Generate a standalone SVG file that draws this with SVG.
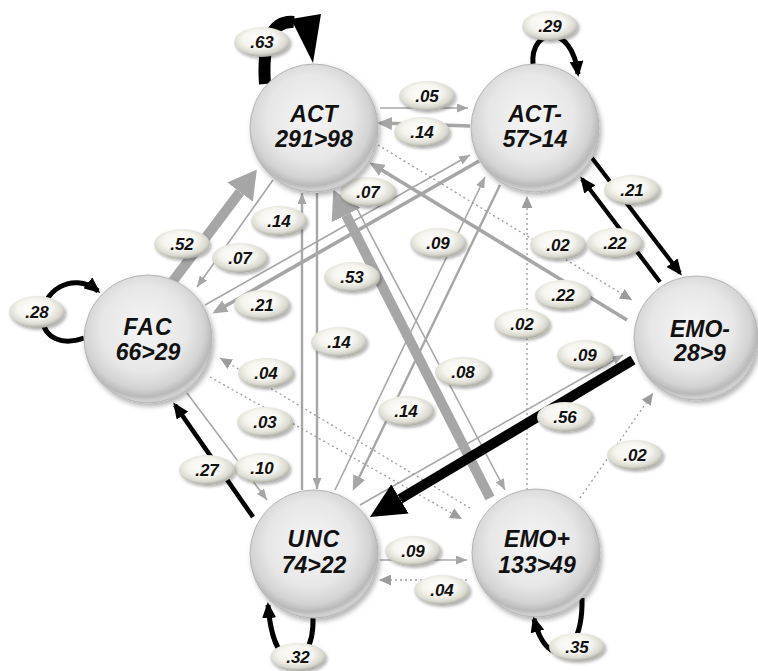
<svg xmlns="http://www.w3.org/2000/svg" width="758" height="671" viewBox="0 0 758 671">
  <style>
    .g1 { fill: none; stroke: #a6a6a6; stroke-width: 1.6; }
    .g2 { fill: none; stroke: #a6a6a6; stroke-width: 2.4; }
    .g3 { fill: none; stroke: #a6a6a6; stroke-width: 3.6; }
    .g4 { fill: none; stroke: #a6a6a6; stroke-width: 10; }
    .dot { fill: none; stroke: #9c9c9c; stroke-width: 1.3; stroke-dasharray: 2 3; }
    .blk { fill: none; stroke: #000; stroke-width: 4.2; }
    .loop { fill: none; stroke: #000; stroke-width: 5; }
    .nodeC { fill: url(#nodeFill); stroke: #b4b4b4; stroke-width: 1; filter: url(#nodeShadow); }
    .nodeT { font-family: "Liberation Sans", Arial, sans-serif; font-weight: bold; font-style: italic; font-size: 23px; text-anchor: middle; fill: #111; }
    .lblE { fill: url(#lblFill); filter: url(#lblShadow); }
    .lblT { font-family: "Liberation Sans", Arial, sans-serif; font-weight: bold; font-style: italic; font-size: 17px; text-anchor: middle; fill: #111; }
  </style>
  <defs>
    <radialGradient id="nodeFill" cx="0.47" cy="0.42" r="0.56">
      <stop offset="0" stop-color="#f5f5f5"/>
      <stop offset="0.6" stop-color="#e7e7e7"/>
      <stop offset="0.84" stop-color="#d3d3d3"/>
      <stop offset="0.95" stop-color="#b9b9b9"/>
      <stop offset="1" stop-color="#cfcfcf"/>
    </radialGradient>
    <radialGradient id="lblFill" cx="0.46" cy="0.4" r="0.6">
      <stop offset="0" stop-color="#ffffff"/>
      <stop offset="0.5" stop-color="#f6f5ef"/>
      <stop offset="0.8" stop-color="#dcdbd2"/>
      <stop offset="1" stop-color="#a9a8a0"/>
    </radialGradient>
    <filter id="nodeShadow" x="-20%" y="-20%" width="140%" height="140%">
      <feDropShadow dx="2" dy="3" stdDeviation="2.5" flood-color="#000" flood-opacity="0.3"/>
    </filter>
    <filter id="lblShadow" x="-20%" y="-30%" width="140%" height="160%">
      <feDropShadow dx="1.5" dy="2" stdDeviation="1.5" flood-color="#000" flood-opacity="0.3"/>
    </filter>
    <!-- arrowheads -->
    <marker id="aS" markerUnits="userSpaceOnUse" orient="auto" markerWidth="11" markerHeight="9" refX="11" refY="4.5">
      <path d="M0,0 L11,4.5 L0,9 z" fill="#a6a6a6"/>
    </marker>
    <marker id="aM" markerUnits="userSpaceOnUse" orient="auto" markerWidth="15" markerHeight="13" refX="12" refY="6.5">
      <path d="M0,0 L15,6.5 L0,13 z" fill="#a6a6a6"/>
    </marker>
    <marker id="aL" markerUnits="userSpaceOnUse" orient="auto" markerWidth="28" markerHeight="32" refX="0" refY="16">
      <path d="M0,0 L28,16 L0,32 z" fill="#a6a6a6"/>
    </marker>
    <marker id="aD" markerUnits="userSpaceOnUse" orient="auto" markerWidth="12" markerHeight="11" refX="12" refY="5.5">
      <path d="M0,0 L12,5.5 L0,11 z" fill="#9c9c9c"/>
    </marker>
    <marker id="bS" markerUnits="userSpaceOnUse" orient="auto" markerWidth="16" markerHeight="14" refX="13" refY="7">
      <path d="M0,0 L16,7 L0,14 z" fill="#000"/>
    </marker>
    <marker id="bL" markerUnits="userSpaceOnUse" orient="auto" markerWidth="35" markerHeight="34" refX="0" refY="17">
      <path d="M0,0 L35,17 L0,34 z" fill="#000"/>
    </marker>
  </defs>

  <g id="connectors">
    <!-- thin gray transitions -->
    <path class="g1" d="M380,108 L468,108" marker-end="url(#aS)"/>
    <path class="g1" d="M273,180 L197,287" marker-end="url(#aS)"/>
    <path class="g1" d="M205,305 L470,155" marker-end="url(#aS)"/>
    <path class="g2" d="M302,490 L302,193" marker-end="url(#aS)"/>
    <path class="g2" d="M317,193 L317,489" marker-end="url(#aS)"/>
    <path class="g1" d="M335,490 L485,177" marker-end="url(#aS)"/>
    <path class="g1" d="M343,182 L505,490" marker-end="url(#aS)"/>
    <path class="g1" d="M187,393 L267,500" marker-end="url(#aS)"/>
    <path class="g1" d="M360,505 L623,355" marker-end="url(#aS)"/>
    <path class="g1" d="M380,560 L467,560" marker-end="url(#aS)"/>
    <!-- medium gray transitions -->
    <path class="g3" d="M470,126 L380,123" marker-end="url(#aM)"/>
    <path class="g3" d="M479,161 L215,312" marker-end="url(#aM)"/>
    <path class="g3" d="M627,320 L372,164" marker-end="url(#aM)"/>
    <path class="g2" d="M500,185 L354,488" marker-end="url(#aM)"/>
    <!-- heavy gray transitions -->
    <path class="g4" d="M173,281 L240,192" marker-end="url(#aL)"/>
    <path class="g4" d="M490,498 L346,215" marker-end="url(#aL)"/>
    <!-- dotted transitions -->
    <path class="dot" d="M378,145 L632,300" marker-end="url(#aD)"/>
    <path class="dot" d="M527,490 L527,196" marker-end="url(#aD)"/>
    <path class="dot" d="M470,508 L220,358" marker-end="url(#aD)"/>
    <path class="dot" d="M210,377 L462,519" marker-end="url(#aD)"/>
    <path class="dot" d="M580,498 L653,393" marker-end="url(#aD)"/>
    <path class="dot" d="M467,580 L379,580" marker-end="url(#aD)"/>
    <!-- black transitions -->
    <path class="blk" d="M592,158 L680,273" marker-end="url(#bS)"/>
    <path class="blk" d="M660,282 L582,179" marker-end="url(#bS)"/>
    <path class="blk" style="stroke-width:4.6" d="M253,517 L175,405" marker-end="url(#bS)"/>
    <path class="blk" style="stroke-width:10" d="M633,360 L400,499" marker-end="url(#bL)"/>
    <!-- self loops -->
    <path class="blk" style="stroke-width:12" d="M265,84 C262,42 272,20 294,22"/>
    <polygon points="291,19 321,14 313,63" fill="#000"/>
    <path class="loop" d="M533,64 C530,28 572,22 578,74" marker-end="url(#bS)"/>
    <path class="loop" d="M84,338 C62,346 45,338 42,320 C40,292 72,270 98,291" marker-end="url(#bS)"/>
    <path class="loop" d="M313,617 C314,650 300,662 289,658 C276,654 270,630 268,605" marker-end="url(#bS)"/>
    <path class="loop" d="M582,598 C583,640 566,660 551,650 C541,643 537,630 534,619" marker-end="url(#bS)"/>

    <!-- transition probabilities -->
    <g><ellipse class="lblE" cx="262" cy="42" rx="28" ry="15"/><text class="lblT" x="262" y="48">.63</text></g>
    <g><ellipse class="lblE" cx="550" cy="26" rx="28" ry="15"/><text class="lblT" x="550" y="32">.29</text></g>
    <g><ellipse class="lblE" cx="427" cy="96" rx="28" ry="15"/><text class="lblT" x="427" y="102">.05</text></g>
    <g><ellipse class="lblE" cx="422" cy="132" rx="28" ry="15"/><text class="lblT" x="422" y="138">.14</text></g>
    <g><ellipse class="lblE" cx="368" cy="192" rx="28" ry="15"/><text class="lblT" x="368" y="198">.07</text></g>
    <g><ellipse class="lblE" cx="279" cy="221" rx="28" ry="15"/><text class="lblT" x="279" y="227">.14</text></g>
    <g><ellipse class="lblE" cx="182" cy="244" rx="28" ry="15"/><text class="lblT" x="182" y="250">.52</text></g>
    <g><ellipse class="lblE" cx="240" cy="258" rx="28" ry="15"/><text class="lblT" x="240" y="264">.07</text></g>
    <g><ellipse class="lblE" cx="438" cy="243" rx="28" ry="15"/><text class="lblT" x="438" y="249">.09</text></g>
    <g><ellipse class="lblE" cx="558" cy="245" rx="28" ry="15"/><text class="lblT" x="558" y="251">.02</text></g>
    <g><ellipse class="lblE" cx="615" cy="243" rx="28" ry="15"/><text class="lblT" x="615" y="249">.22</text></g>
    <g><ellipse class="lblE" cx="632" cy="190" rx="28" ry="15"/><text class="lblT" x="632" y="196">.21</text></g>
    <g><ellipse class="lblE" cx="352" cy="277" rx="28" ry="15"/><text class="lblT" x="352" y="283">.53</text></g>
    <g><ellipse class="lblE" cx="262" cy="305" rx="28" ry="15"/><text class="lblT" x="262" y="311">.21</text></g>
    <g><ellipse class="lblE" cx="563" cy="295" rx="28" ry="15"/><text class="lblT" x="563" y="301">.22</text></g>
    <g><ellipse class="lblE" cx="37" cy="312" rx="28" ry="16"/><text class="lblT" x="37" y="318">.28</text></g>
    <g><ellipse class="lblE" cx="522" cy="324" rx="28" ry="15"/><text class="lblT" x="522" y="330">.02</text></g>
    <g><ellipse class="lblE" cx="339" cy="342" rx="28" ry="15"/><text class="lblT" x="339" y="348">.14</text></g>
    <g><ellipse class="lblE" cx="585" cy="355" rx="28" ry="15"/><text class="lblT" x="585" y="361">.09</text></g>
    <g><ellipse class="lblE" cx="266" cy="373" rx="28" ry="15"/><text class="lblT" x="266" y="379">.04</text></g>
    <g><ellipse class="lblE" cx="463" cy="372" rx="28" ry="15"/><text class="lblT" x="463" y="378">.08</text></g>
    <g><ellipse class="lblE" cx="406" cy="411" rx="28" ry="15"/><text class="lblT" x="406" y="417">.14</text></g>
    <g><ellipse class="lblE" cx="565" cy="417" rx="28" ry="15"/><text class="lblT" x="565" y="423">.56</text></g>
    <g><ellipse class="lblE" cx="265" cy="422" rx="28" ry="15"/><text class="lblT" x="265" y="428">.03</text></g>
    <g><ellipse class="lblE" cx="262" cy="468" rx="28" ry="15"/><text class="lblT" x="262" y="474">.10</text></g>
    <g><ellipse class="lblE" cx="207" cy="470" rx="28" ry="15"/><text class="lblT" x="207" y="476">.27</text></g>
    <g><ellipse class="lblE" cx="635" cy="455" rx="28" ry="15"/><text class="lblT" x="635" y="461">.02</text></g>
    <g><ellipse class="lblE" cx="413" cy="551" rx="28" ry="15"/><text class="lblT" x="413" y="557">.09</text></g>
    <g><ellipse class="lblE" cx="442" cy="590" rx="28" ry="15"/><text class="lblT" x="442" y="596">.04</text></g>
    <g><ellipse class="lblE" cx="298" cy="657" rx="28" ry="14"/><text class="lblT" x="298" y="663">.32</text></g>
    <g><ellipse class="lblE" cx="577" cy="647" rx="28" ry="14"/><text class="lblT" x="577" y="653">.35</text></g>
  </g>

  <g id="node-act">
    <circle class="nodeC" cx="314" cy="128" r="64"/>
    <text class="nodeT" x="314" y="122">ACT</text>
    <text class="nodeT" x="314" y="147">291&gt;98</text>
  </g>
  <g id="node-act-neg">
    <circle class="nodeC" cx="535" cy="128" r="64"/>
    <text class="nodeT" x="535" y="122">ACT-</text>
    <text class="nodeT" x="535" y="147">57&gt;14</text>
  </g>
  <g id="node-fac">
    <circle class="nodeC" cx="148" cy="339" r="64"/>
    <text class="nodeT" x="148" y="335" letter-spacing="1">FAC</text>
    <text class="nodeT" x="148" y="360">66&gt;29</text>
  </g>
  <g id="node-emo-neg">
    <circle class="nodeC" cx="696" cy="338" r="62"/>
    <text class="nodeT" x="700" y="337">EMO-</text>
    <text class="nodeT" x="700" y="361">28&gt;9</text>
  </g>
  <g id="node-unc">
    <circle class="nodeC" cx="314" cy="554" r="64"/>
    <text class="nodeT" x="314" y="547" letter-spacing="1">UNC</text>
    <text class="nodeT" x="314" y="573">74&gt;22</text>
  </g>
  <g id="node-emo-pos">
    <circle class="nodeC" cx="536" cy="553" r="64"/>
    <text class="nodeT" x="537" y="547">EMO+</text>
    <text class="nodeT" x="537" y="573">133&gt;49</text>
  </g>
</svg>
